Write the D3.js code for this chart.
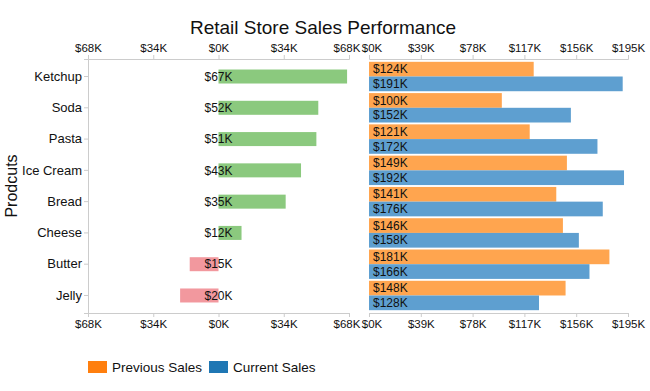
<!DOCTYPE html>
<html><head><meta charset="utf-8">
<script src="https://cdn.jsdelivr.net/npm/d3@7"></script>
<style>body{margin:0;background:#fff;} svg{font-family:"Liberation Sans",Arial,sans-serif;}</style>
</head><body>
<svg id="c" width="650" height="391"></svg>
<script>
const products = ["Ketchup","Soda","Pasta","Ice Cream","Bread","Cheese","Butter","Jelly"];
const previousSales = [124,100,121,149,141,146,181,148];
const currentSales  = [191,152,172,192,176,158,166,128];
const difference    = [67,52,51,43,35,12,-15,-20];
const diffTicks = [-68,-34,0,34,68];
const salesTicks = [0,39,78,117,156,195];
const seriesNames = ["Previous Sales","Current Sales"];

const svg = d3.select("#c");
const plotTop = 59, plotBottom = 313;
const y = d3.scaleBand().domain(products).range([plotTop,plotBottom]).paddingInner(0.06).paddingOuter(0.09);
const xL = d3.scaleLinear().domain([-68,68]).range([88,349]);
const xR = d3.scaleLinear().domain([0,195]).range([369,628]);
const ySub = d3.scaleBand().domain(seriesNames).range([0,y.bandwidth()]).padding(0);
const color = d3.scaleOrdinal().domain(seriesNames).range(["#ff7f0e","#1f77b4"]);
const barColor = d3.scaleOrdinal().domain(seriesNames).range(["#ffa54f","#5e9fd0"]);
const fmt = v => "$" + Math.abs(v) + "K";

svg.append("text").attr("x",323).attr("y",34).attr("text-anchor","middle")
  .attr("font-size",19).attr("fill","#111").text("Retail Store Sales Performance");

function styleAxis(g){
  g.selectAll(".domain").attr("stroke","#ccc");
  g.selectAll(".tick line").attr("stroke","#ccc");
  g.selectAll(".tick text").attr("font-size",11.5).attr("fill","#111").attr("font-family","Liberation Sans, Arial, sans-serif");
}
const nudgeLeftEnd = g => g.selectAll(".tick text").filter((d,i,n)=>i===n.length-1).attr("dx",-2.5);
const nudgeRightStart = g => g.selectAll(".tick text").filter((d,i)=>i===0).attr("dx",2.5);

svg.append("g").attr("transform",`translate(0,${plotTop})`)
  .call(d3.axisTop(xL).tickValues(diffTicks).tickFormat(fmt).tickSize(4)).call(styleAxis).call(nudgeLeftEnd);
svg.append("g").attr("transform",`translate(0,${plotBottom})`)
  .call(d3.axisBottom(xL).tickValues(diffTicks).tickFormat(fmt).tickSize(4)).call(styleAxis).call(nudgeLeftEnd);
svg.append("g").attr("transform",`translate(${xL.range()[0]},0)`)
  .call(d3.axisLeft(y).tickSize(4).tickPadding(2)).call(styleAxis)
  .call(g=>g.selectAll(".tick text").attr("font-size",13));
svg.append("g").attr("transform",`translate(0,${plotTop})`)
  .call(d3.axisTop(xR).tickValues(salesTicks).tickFormat(fmt).tickSize(4)).call(styleAxis).call(nudgeRightStart);
svg.append("g").attr("transform",`translate(0,${plotBottom})`)
  .call(d3.axisBottom(xR).tickValues(salesTicks).tickFormat(fmt).tickSize(4)).call(styleAxis).call(nudgeRightStart);

const bh = 14;
svg.append("g").selectAll("rect").data(products).join("rect")
  .attr("x",(d,i)=>xL(Math.min(0,difference[i])))
  .attr("width",(d,i)=>Math.abs(xL(difference[i])-xL(0)))
  .attr("y",d=>y(d)+y.bandwidth()/2-bh/2)
  .attr("height",bh)
  .attr("fill",(d,i)=>difference[i]>=0?"#8bc97e":"#f2989e");
svg.append("g").selectAll("text").data(products).join("text")
  .attr("x",xL(0)).attr("y",d=>y(d)+y.bandwidth()/2).attr("dy","0.35em")
  .attr("text-anchor","middle").attr("font-size",12).attr("fill","#111")
  .text((d,i)=>fmt(difference[i]));

const rows = [];
products.forEach((p,i)=>{
  rows.push({p,s:seriesNames[0],v:previousSales[i]});
  rows.push({p,s:seriesNames[1],v:currentSales[i]});
});
svg.append("g").selectAll("rect").data(rows).join("rect")
  .attr("x",xR(0)).attr("width",d=>xR(d.v)-xR(0))
  .attr("y",d=>y(d.p)+ySub(d.s)).attr("height",ySub.bandwidth())
  .attr("fill",d=>barColor(d.s));
svg.append("g").selectAll("text").data(rows).join("text")
  .attr("x",xR(0)+4).attr("y",d=>y(d.p)+ySub(d.s)+ySub.bandwidth()/2).attr("dy","0.35em")
  .attr("font-size",12).attr("fill","#111").text(d=>fmt(d.v));

svg.append("text").attr("transform","translate(17,186) rotate(-90)").attr("text-anchor","middle")
  .attr("font-size",16).attr("fill","#111").text("Prodcuts");

const lg = svg.append("g");
const lx = [88,209];
seriesNames.forEach((s,i)=>{
  lg.append("rect").attr("x",lx[i]).attr("y",361).attr("width",19).attr("height",12).attr("fill",color(s));
  lg.append("text").attr("x",lx[i]+24).attr("y",367).attr("dy","0.35em").attr("font-size",13.5).attr("fill","#111").text(s);
});
</script>
</body></html>
